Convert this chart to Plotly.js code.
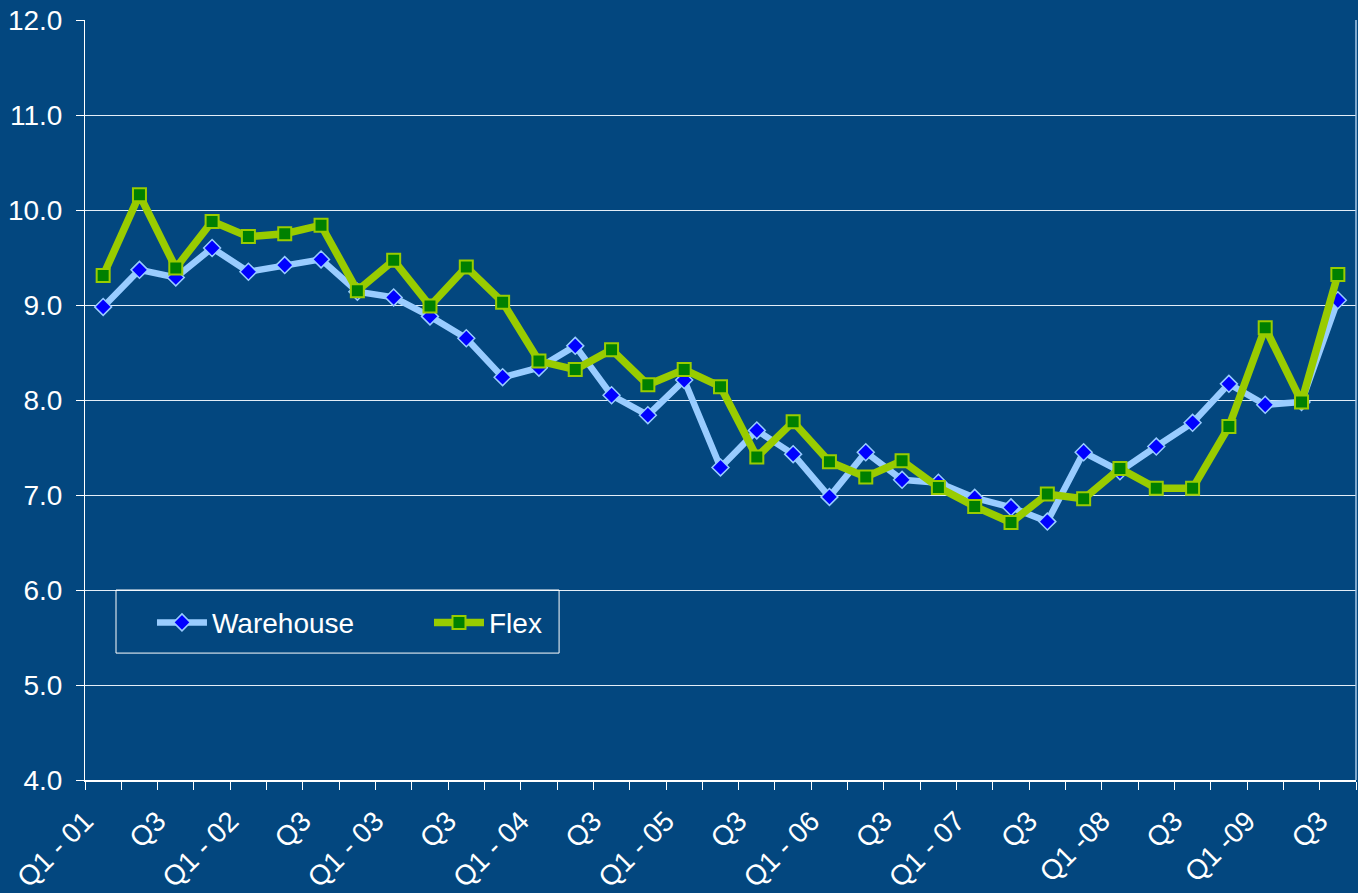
<!DOCTYPE html>
<html>
<head>
<meta charset="utf-8">
<script src="https://cdn.plot.ly/plotly-3.0.1.min.js"></script>
<style>html,body{margin:0;padding:0;background:#03477f;}#chart{width:1358px;height:893px;}</style>
</head>
<body>
<div id="chart"></div>
<script>
const categories = ["Q1-01","Q2-01","Q3-01","Q4-01","Q1-02","Q2-02","Q3-02","Q4-02","Q1-03","Q2-03","Q3-03","Q4-03","Q1-04","Q2-04","Q3-04","Q4-04","Q1-05","Q2-05","Q3-05","Q4-05","Q1-06","Q2-06","Q3-06","Q4-06","Q1-07","Q2-07","Q3-07","Q4-07","Q1-08","Q2-08","Q3-08","Q4-08","Q1-09","Q2-09","Q3-09"];
const tickLabels = ["Q1 - 01","Q3","Q1 - 02","Q3","Q1 - 03","Q3","Q1 - 04","Q3","Q1 - 05","Q3","Q1 - 06","Q3","Q1 - 07","Q3","Q1 -08","Q3","Q1 -09","Q3"];
const warehouse = [8.98,9.37,9.29,9.60,9.35,9.42,9.48,9.14,9.08,8.88,8.65,8.24,8.34,8.57,8.05,7.84,8.21,7.29,7.68,7.43,6.98,7.45,7.16,7.13,6.97,6.87,6.72,7.45,7.25,7.51,7.76,8.17,7.95,7.98,9.05];
const flex = [9.31,10.16,9.39,9.88,9.72,9.75,9.84,9.15,9.47,8.99,9.40,9.03,8.41,8.32,8.53,8.16,8.32,8.14,7.40,7.77,7.35,7.19,7.36,7.08,6.88,6.71,7.01,6.96,7.28,7.07,7.07,7.72,8.76,7.98,9.32];

const xIdx = categories.map((c, i) => i);
// labels sit at the left boundary of every other category, as in the original
const tickVals = xIdx.filter(i => i % 2 === 0).map(i => i - 0.5);
const font = "Liberation Sans, Arial, sans-serif";

const traces = [
  {
    name: "Warehouse", x: xIdx, y: warehouse, text: categories, type: "scatter", mode: "lines+markers",
    line: {color: "#99CCFF", width: 6.5},
    marker: {symbol: "diamond", size: 13, color: "#0000FF", line: {color: "#99CCFF", width: 1.5}}
  },
  {
    name: "Flex", x: xIdx, y: flex, text: categories, type: "scatter", mode: "lines+markers",
    line: {color: "#99CC00", width: 7.5},
    marker: {symbol: "square", size: 13, color: "#008000", line: {color: "#99CC00", width: 2}}
  }
];

const layout = {
  width: 1358, height: 893,
  paper_bgcolor: "#03477f", plot_bgcolor: "#03477f",
  margin: {l: 85, r: 2, t: 20, b: 113},
  font: {family: font, color: "#ffffff", size: 28},
  showlegend: true,
  legend: {
    orientation: "h", x: 0.0527, y: 0.207, xanchor: "left", yanchor: "middle",
    bgcolor: "rgba(0,0,0,0)", borderwidth: 0,
    font: {family: font, size: 28, color: "#ffffff"},
    entrywidth: 212, entrywidthmode: "pixels", itemwidth: 50
  },
  shapes: [
    {type: "rect", xref: "paper", yref: "paper", x0: 0.0244, x1: 0.373, y0: 0.167, y1: 0.25,
     line: {color: "#ffffff", width: 1}, fillcolor: "rgba(0,0,0,0)"},
    {type: "line", xref: "paper", yref: "paper", x0: 1, x1: 1, y0: 0, y1: 1,
     line: {color: "#a8c8e8", width: 1.5}}
  ],
  xaxis: {
    type: "linear", range: [-0.5, 34.5],
    tickmode: "array", tickvals: tickVals, ticktext: tickLabels,
    tickangle: -45, ticks: "", showgrid: false, zeroline: false,
    showline: true, linecolor: "#ffffff", linewidth: 1.5,
    ticklabelstandoff: 12,
    tickfont: {family: font, size: 28, color: "#ffffff"},
    minor: {tick0: -0.5, dtick: 1, ticks: "outside", ticklen: 8, tickcolor: "#ffffff", tickwidth: 1, showgrid: false}
  },
  yaxis: {
    range: [4, 12], dtick: 1, tick0: 4, tickformat: ".1f",
    showgrid: true, gridcolor: "#e4eef8", gridwidth: 1, zeroline: false,
    showline: true, linecolor: "#ffffff", linewidth: 1,
    ticks: "outside", ticklen: 8, tickcolor: "#ffffff",
    ticklabelstandoff: 8,
    tickfont: {family: font, size: 28, color: "#ffffff"}
  }
};

Plotly.newPlot("chart", traces, layout, {displayModeBar: false, staticPlot: true});
</script>
</body>
</html>
